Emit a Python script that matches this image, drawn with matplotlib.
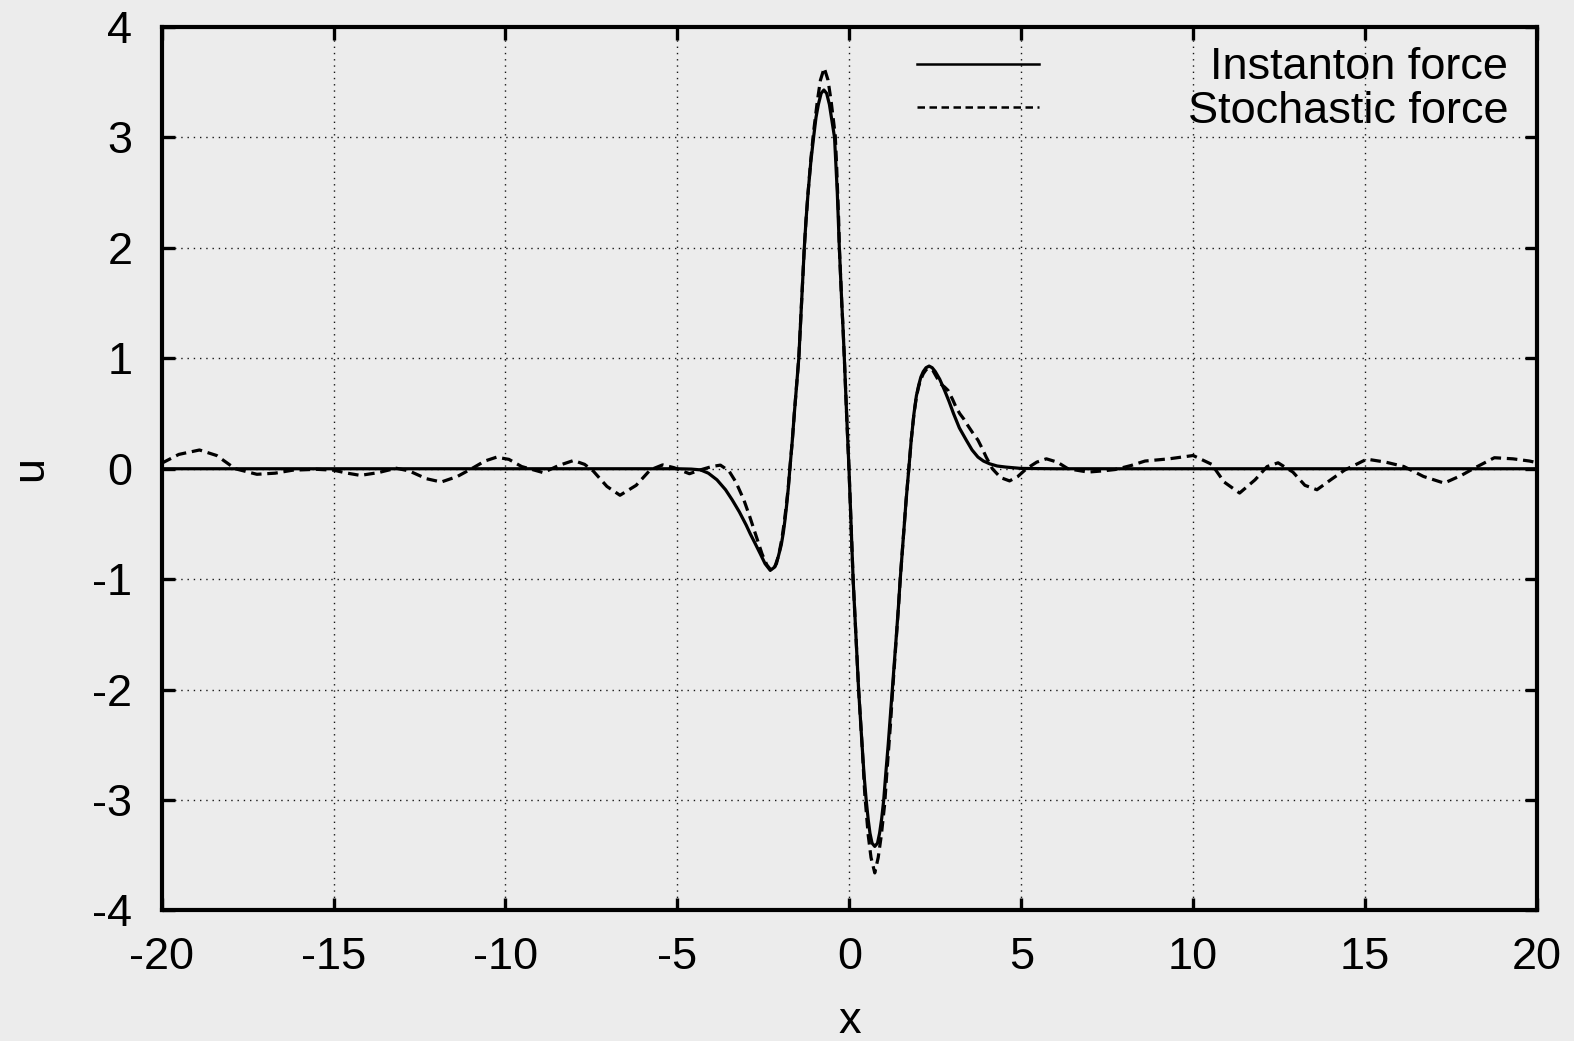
import matplotlib
matplotlib.use("Agg")
import matplotlib.pyplot as plt

plt.rcParams['font.family'] = ['Liberation Sans', 'DejaVu Sans']
plt.rcParams['axes.unicode_minus'] = False

# ---------------- data ----------------
inst_x = [-20, -15, -10, -6, -5, -4.6, -4.33, -4.1, -3.85, -3.6, -3.41, -3.2, -3.0,
          -2.88, -2.75, -2.59, -2.45, -2.3, -2.17, -2.07, -1.98, -1.92, -1.87, -1.82,
          -1.77, -1.73, -1.66, -1.6, -1.53, -1.47, -1.43, -1.39, -1.35, -1.31, -1.26,
          -1.2, -1.12, -1.04, -0.97, -0.9, -0.82, -0.74, -0.66, -0.58, -0.5, -0.43,
          -0.39, -0.35, -0.32, -0.29, -0.255, -0.22, -0.18, -0.145, -0.08, -0.01,
          0.05, 0.11, 0.19, 0.27, 0.32, 0.37, 0.43, 0.49, 0.55, 0.6, 0.66, 0.74,
          0.82, 0.88, 0.94, 1.0, 1.06, 1.13, 1.19, 1.25, 1.31, 1.37, 1.43, 1.48,
          1.54, 1.6, 1.65, 1.73, 1.8, 1.88, 1.95, 2.02, 2.08, 2.15, 2.23, 2.32,
          2.41, 2.5, 2.63, 2.77, 2.9, 3.03, 3.2, 3.4, 3.57, 3.74, 3.9, 4.08, 4.3,
          4.56, 5.0, 6.0, 10.0, 15.0, 20.0]
inst_u = [0, 0, 0, 0, 0, -0.003, -0.01, -0.04, -0.10, -0.19, -0.28, -0.39, -0.51,
          -0.59, -0.67, -0.77, -0.86, -0.92, -0.89, -0.80, -0.69, -0.58, -0.46, -0.32,
          -0.16, 0.0, 0.25, 0.5, 0.77, 1.0, 1.25, 1.5, 1.75, 2.0, 2.25,
          2.5, 2.78, 3.0, 3.18, 3.3, 3.4, 3.43, 3.4, 3.3, 3.14, 3.0,
          2.75, 2.5, 2.25, 2.0, 1.75, 1.5, 1.25, 1.0, 0.5, 0.0,
          -0.5, -1.0, -1.5, -2.0, -2.25, -2.5, -2.78, -3.0, -3.18, -3.3, -3.39, -3.42,
          -3.39, -3.3, -3.17, -3.0, -2.76, -2.5, -2.25, -2.0, -1.75, -1.5, -1.24, -1.0,
          -0.75, -0.5, -0.29, 0.0, 0.26, 0.5, 0.66, 0.76, 0.83, 0.88, 0.915, 0.93,
          0.915, 0.88, 0.81, 0.71, 0.61, 0.5, 0.37, 0.26, 0.17, 0.106, 0.07, 0.045, 0.025,
          0.015, 0.003, 0.0, 0.0, 0.0, 0.0]

stoch_x = [-20, -19.5, -18.9, -18.4, -17.86, -17.23, -16.7, -16.19, -15.5, -15.0,
           -14.6, -14.22, -13.7, -13.18, -12.8, -12.3, -11.87, -11.4, -10.99, -10.6,
           -10.26, -9.9, -9.53, -8.9, -8.45, -8.02, -7.7, -7.45, -7.05, -6.67, -6.2,
           -5.79, -5.43, -5.1, -4.65, -4.33, -4.0, -3.75, -3.5, -3.3, -3.07, -2.9,
           -2.73, -2.54, -2.4, -2.25, -2.12, -2.04, -1.96, -1.9, -1.84, -1.78, -1.73,
           -1.66, -1.6, -1.53, -1.47, -1.43, -1.39, -1.35, -1.31, -1.26, -1.2, -1.12,
           -1.04, -0.93, -0.84, -0.73, -0.62, -0.53, -0.41, -0.37, -0.34, -0.31, -0.29,
           -0.255, -0.22, -0.18, -0.145, -0.08, -0.01, 0.05, 0.11, 0.19, 0.27, 0.32,
           0.37, 0.45, 0.55, 0.63, 0.74, 0.84, 0.93, 1.03, 1.08, 1.14, 1.2, 1.25,
           1.31, 1.37, 1.43, 1.48, 1.54, 1.6, 1.65, 1.73, 1.8, 1.88, 1.95, 2.02,
           2.08, 2.15, 2.24, 2.34, 2.43, 2.52, 2.65, 2.77, 2.87, 3.0, 3.1, 3.21,
           3.33, 3.45, 3.6, 3.74, 3.87, 3.98, 4.16, 4.4, 4.66, 4.9, 5.15, 5.45,
           5.73, 6.05, 6.36, 6.94, 7.35, 7.73, 8.2, 8.6, 9.3, 10.0, 10.54, 10.9,
           11.35, 11.8, 12.15, 12.47, 12.9, 13.25, 13.6, 14.0, 14.4, 15.05, 15.6,
           16.13, 16.7, 17.3, 17.8, 18.16, 18.76, 19.3, 19.78, 20.0]
stoch_u = [0.05, 0.13, 0.17, 0.12, 0.0, -0.05, -0.04, -0.013, -0.005, -0.013,
           -0.04, -0.06, -0.035, 0.005, -0.02, -0.09, -0.12, -0.07, 0.0, 0.07,
           0.105, 0.085, 0.02, -0.035, 0.03, 0.075, 0.04, -0.02, -0.16, -0.24, -0.15,
           -0.01, 0.035, 0.01, -0.045, -0.01, 0.02, 0.033, -0.02, -0.12, -0.28, -0.43,
           -0.59, -0.77, -0.87, -0.93, -0.86, -0.76, -0.63, -0.5, -0.35, -0.18, 0.0,
           0.25, 0.5, 0.77, 1.0, 1.25, 1.5, 1.75, 2.0, 2.25, 2.5, 2.8,
           3.05, 3.33, 3.52, 3.63, 3.52, 3.33, 3.02, 2.75, 2.5, 2.25, 2.0,
           1.75, 1.5, 1.25, 1.0, 0.5, 0.0, -0.5, -1.0, -1.5, -2.0, -2.25,
           -2.5, -2.95, -3.32, -3.52, -3.66, -3.52, -3.32, -3.03, -2.8, -2.55, -2.3, -2.05,
           -1.78, -1.52, -1.25, -1.0, -0.75, -0.5, -0.29, 0.0, 0.26, 0.5, 0.65, 0.75,
           0.81, 0.86, 0.9, 0.91, 0.89, 0.84, 0.77, 0.74, 0.71, 0.63, 0.56, 0.5,
           0.45, 0.39, 0.32, 0.26, 0.18, 0.106, 0.0, -0.08, -0.11, -0.07, 0.0, 0.06,
           0.09, 0.06, 0.0, -0.03, -0.02, -0.007, 0.03, 0.07, 0.09, 0.12, 0.04, -0.12,
           -0.22, -0.1, 0.02, 0.054, -0.03, -0.15, -0.19, -0.1, -0.013, 0.087, 0.06,
           0.02, -0.07, -0.13, -0.06, 0.003, 0.10, 0.09, 0.07, 0.055]

series_labels = ["Instanton force", "Stochastic force"]
xticks = [-20, -15, -10, -5, 0, 5, 10, 15, 20]
yticks = [-4, -3, -2, -1, 0, 1, 2, 3, 4]

# ---------------- figure ----------------
bg = '#ececec'
fig = plt.figure(figsize=(15.74, 10.41), dpi=100, facecolor=bg)
ax = fig.add_axes([0.1027, 0.1254, 0.8738, 0.8486], facecolor=bg)

dash = (0, (3.3, 1.8))
l1, = ax.plot(inst_x, inst_u, color='black', lw=2.3, solid_joinstyle='round',
              label=series_labels[0], zorder=3)
l2, = ax.plot(stoch_x, stoch_u, color='black', lw=2.3, linestyle=dash,
              label=series_labels[1], zorder=3)

ax.set_xlim(-20, 20)
ax.set_ylim(-4, 4)
ax.set_xticks(xticks)
ax.set_yticks(yticks)
ax.set_xticklabels([str(t) for t in xticks])
ax.set_yticklabels([str(t) for t in yticks])

ax.grid(True, color='black', linestyle=(0, (1, 3.5)), linewidth=1.0, alpha=0.9)
ax.set_axisbelow(True)

for s in ax.spines.values():
    s.set_linewidth(3.0)
    s.set_color('black')

ax.tick_params(axis='both', which='major', direction='in', length=9, width=2.4,
               top=True, right=True, labelsize=32.5, color='black')
ax.tick_params(axis='x', pad=19)
ax.tick_params(axis='y', pad=21)

ax.set_xlabel('x', fontsize=32.5, labelpad=17)
ax.set_ylabel('u', fontsize=32.5, labelpad=30)

leg = ax.legend(handles=[l1, l2], loc='upper right', bbox_to_anchor=(0.979, 0.977),
                frameon=False, fontsize=32.5, handlelength=2.7, handletextpad=3.3,
                borderpad=0, borderaxespad=0, labelspacing=0.06)
for ln in leg.get_lines():
    ln.set_linewidth(1.8)
leg.get_lines()[1].set_linestyle((0, (3.0, 1.8)))

# right-justify legend texts (gnuplot style key)
fig.canvas.draw()
texts = leg.get_texts()
widths = [t.get_window_extent().width for t in texts]
wmax = max(widths)
for t, w in zip(texts, widths):
    t.set_x(wmax - w)

fig.savefig('out.png', dpi=100, facecolor=bg)
